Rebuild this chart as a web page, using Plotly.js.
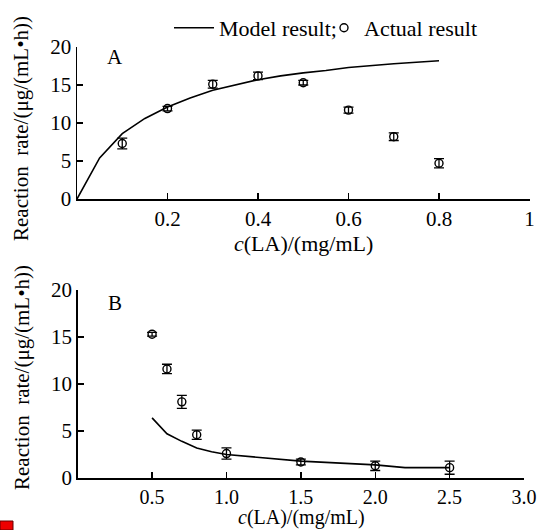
<!DOCTYPE html>
<html>
<head>
<meta charset="utf-8">
<script src="https://cdn.plot.ly/plotly-3.0.1.min.js"></script>
<style>html,body{margin:0;padding:0;background:#fff;}#chart{width:539px;height:530px;}</style>
</head>
<body>
<div id="chart"></div>
<script>
// Panel A data
const modelAX = [0, 0.05, 0.1, 0.15, 0.2, 0.25, 0.3, 0.35, 0.4, 0.45, 0.5, 0.55, 0.6, 0.7, 0.8];
const modelAY = [0, 5.4, 8.6, 10.6, 12.1, 13.3, 14.3, 15.0, 15.7, 16.2, 16.6, 16.9, 17.3, 17.8, 18.2];
const actualAX = [0.1, 0.2, 0.3, 0.4, 0.5, 0.6, 0.7, 0.8];
const actualAY = [7.3, 11.9, 15.1, 16.2, 15.3, 11.7, 8.2, 4.7];
const actualAErr = [0.7, 0.3, 0.5, 0.5, 0.3, 0.4, 0.5, 0.6];
// Panel B data
const modelBX = [0.5, 0.6, 0.7, 0.8, 0.9, 1.0, 1.5, 2.0, 2.2, 2.5];
const modelBY = [6.4, 4.7, 3.9, 3.2, 2.8, 2.5, 1.8, 1.4, 1.1, 1.1];
const actualBX = [0.5, 0.6, 0.7, 0.8, 1.0, 1.5, 2.0, 2.5];
const actualBY = [15.3, 11.6, 8.1, 4.6, 2.6, 1.7, 1.3, 1.1];
const actualBErr = [0.2, 0.5, 0.7, 0.5, 0.6, 0.3, 0.5, 0.7];
// Tick labels
const xTicksA = [0.2, 0.4, 0.6, 0.8, 1];
const xTickTextA = ["0.2", "0.4", "0.6", "0.8", "1"];
const xTicksB = [0.5, 1.0, 1.5, 2.0, 2.5, 3.0];
const xTickTextB = ["0.5", "1.0", "1.5", "2.0", "2.5", "3.0"];
const yTicks = [0, 5, 10, 15, 20];
const legendNames = ["Model result;", "Actual result"];
const yTitle = "Reaction  rate/(μg/(mL•h))";
const xTitle = "<i>c</i>(LA)/(mg/mL)";

const FONT = "Liberation Serif, Times New Roman, serif";
const lineStyle = {color: "#000", width: 1.6};
const markerStyle = {symbol: "circle-open", size: 8, color: "#000", line: {width: 1.4, color: "#000"}};
const errStyle = (arr) => ({type: "data", array: arr, visible: true, color: "#000", thickness: 1.3, width: 5});

const traces = [
  {x: modelAX, y: modelAY, mode: "lines", line: lineStyle, name: legendNames[0], xaxis: "x", yaxis: "y", showlegend: true, legend: "legend"},
  {x: actualAX, y: actualAY, mode: "markers", marker: markerStyle, error_y: errStyle(actualAErr), name: legendNames[1], xaxis: "x", yaxis: "y", showlegend: true, legend: "legend2"},
  {x: modelBX, y: modelBY, mode: "lines", line: lineStyle, xaxis: "x2", yaxis: "y2", showlegend: false},
  {x: actualBX, y: actualBY, mode: "markers", marker: markerStyle, error_y: errStyle(actualBErr), xaxis: "x2", yaxis: "y2", showlegend: false}
];

const W = 539, H = 530;
const axisCommon = {
  showline: true, linecolor: "#000", linewidth: 1.5, ticks: "inside", ticklen: 6, tickwidth: 1.3, tickcolor: "#000",
  showgrid: false, zeroline: false, tickfont: {family: FONT, size: 21, color: "#000"}, fixedrange: true
};
const legendFont = {family: FONT, size: 22, color: "#000"};

const layout = {
  width: W, height: H,
  margin: {l: 0, r: 0, t: 0, b: 0},
  paper_bgcolor: "#fff", plot_bgcolor: "#fff",
  font: {family: FONT, size: 21, color: "#000"},
  showlegend: true,
  legend: {orientation: "h", x: 169 / W, y: 1 - 28 / H, xanchor: "left", yanchor: "middle",
           font: legendFont, bgcolor: "rgba(0,0,0,0)", itemwidth: 40},
  legend2: {orientation: "h", x: 324 / W, y: 1 - 28 / H, xanchor: "left", yanchor: "middle",
           font: legendFont, bgcolor: "rgba(0,0,0,0)", itemwidth: 30},
  xaxis: Object.assign({}, axisCommon, {domain: [77 / W, 529.5 / W], range: [0, 1], tickmode: "array", tickvals: xTicksA, ticktext: xTickTextA, anchor: "y"}),
  yaxis: Object.assign({}, axisCommon, {domain: [1 - 199 / H, 1 - 47 / H], range: [0, 20], tickmode: "array", tickvals: yTicks, anchor: "x"}),
  xaxis2: Object.assign({}, axisCommon, {domain: [77.7 / W, 524 / W], range: [0, 3], tickmode: "array", tickvals: xTicksB, ticktext: xTickTextB, anchor: "y2",
           tickfont: {family: FONT, size: 20, color: "#000"}}),
  yaxis2: Object.assign({}, axisCommon, {domain: [1 - 478 / H, 1 - 290 / H], range: [0, 20], tickmode: "array", tickvals: yTicks, anchor: "x2"}),
  annotations: [
    {text: yTitle, xref: "paper", yref: "paper", x: 21 / W, y: 1 - 129 / H, textangle: -90, showarrow: false, font: {family: FONT, size: 21}, xanchor: "center", yanchor: "middle"},
    {text: yTitle, xref: "paper", yref: "paper", x: 22 / W, y: 1 - 378 / H, textangle: -90, showarrow: false, font: {family: FONT, size: 21}, xanchor: "center", yanchor: "middle"},
    {text: xTitle, xref: "paper", yref: "paper", x: 303 / W, y: 1 - 243 / H, showarrow: false, font: {family: FONT, size: 22}, xanchor: "center", yanchor: "middle"},
    {text: xTitle, xref: "paper", yref: "paper", x: 301 / W, y: 0, showarrow: false, font: {family: FONT, size: 20}, xanchor: "center", yanchor: "bottom", borderpad: 0},
    {text: "A", xref: "paper", yref: "paper", x: 115 / W, y: 1 - 57 / H, showarrow: false, font: {family: FONT, size: 21}, xanchor: "center", yanchor: "middle"},
    {text: "B", xref: "paper", yref: "paper", x: 115 / W, y: 1 - 303 / H, showarrow: false, font: {family: FONT, size: 21}, xanchor: "center", yanchor: "middle"}
  ],
  shapes: [
    {type: "rect", xref: "paper", yref: "paper", x0: 0, x1: 13 / W, y0: 0, y1: 9 / H, fillcolor: "#ee0000", line: {color: "#600", width: 1}}
  ]
};

Plotly.newPlot("chart", traces, layout, {displayModeBar: false, staticPlot: true});
</script>
</body>
</html>
